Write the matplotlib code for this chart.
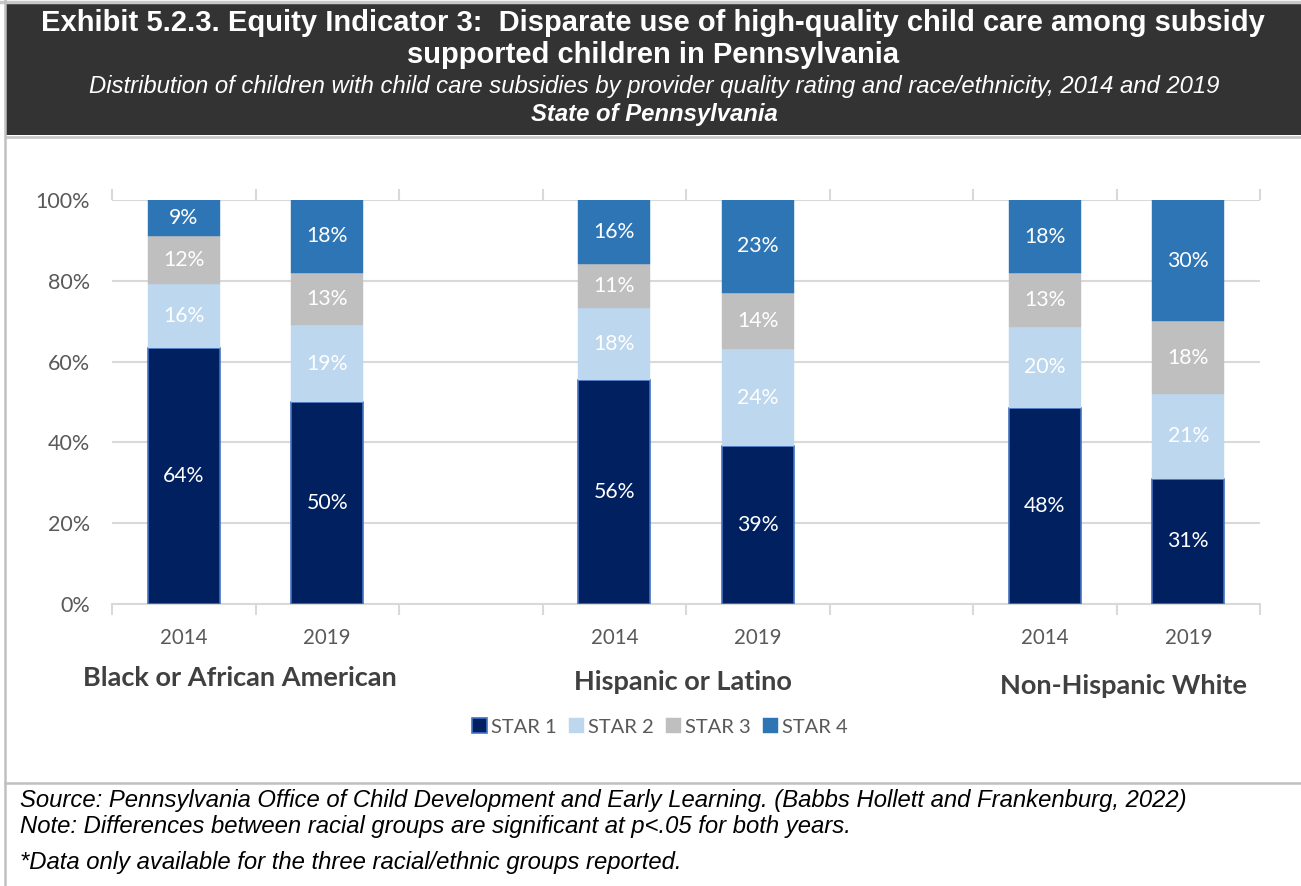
import matplotlib
matplotlib.use('Agg')
import matplotlib.pyplot as plt
import numpy as np
from matplotlib.patches import Rectangle
from matplotlib.lines import Line2D

# share of subsidy children by provider quality rating (percent)
groups = ['Black or African American', 'Hispanic or Latino', 'Non-Hispanic White']
years = ['2014', '2019', '2014', '2019', '2014', '2019']
levels = ['STAR 1', 'STAR 2', 'STAR 3', 'STAR 4']
star1 = [64, 50, 56, 39, 48, 31]
star2 = [16, 19, 18, 24, 20, 21]
star3 = [12, 13, 11, 14, 13, 18]
star4 = [9, 18, 16, 23, 18, 30]

colors = ['#002060', '#BDD7EE', '#BFBFBF', '#2E75B6']
W, H = 1301, 886
fig = plt.figure(figsize=(W / 100, H / 100), dpi=100)


def fx(px):
    return px / W


def fy(py):
    return 1 - py / H


# frame and header band
fig.add_artist(Rectangle((fx(6), fy(135)), fx(W - 6), fy(4) - fy(135), transform=fig.transFigure,
                         facecolor='#333333', edgecolor='none', zorder=0))
fig.add_artist(Line2D([fx(0), fx(W)], [fy(1.5), fy(1.5)], transform=fig.transFigure, color='#C8C8C8', lw=2.5))
fig.add_artist(Line2D([fx(6), fx(W)], [fy(137), fy(137)], transform=fig.transFigure, color='#C8C8C8', lw=2))
fig.add_artist(Line2D([fx(5), fx(5)], [fy(0), fy(H)], transform=fig.transFigure, color='#C0C0C0', lw=1.8))
fig.add_artist(Line2D([fx(5), fx(W)], [fy(783), fy(783)], transform=fig.transFigure, color='#C0C0C0', lw=1.8))

hfont = 'Liberation Sans'
fig.text(fx(653), fy(23), 'Exhibit 5.2.3. Equity Indicator 3:  Disparate use of high-quality child care among subsidy',
         ha='center', va='center', color='white', fontsize=21, fontweight='bold', family=hfont)
fig.text(fx(653), fy(55), 'supported children in Pennsylvania',
         ha='center', va='center', color='white', fontsize=21, fontweight='bold', family=hfont)
fig.text(fx(654), fy(87), 'Distribution of children with child care subsidies by provider quality rating and race/ethnicity, 2014 and 2019',
         ha='center', va='center', color='white', fontsize=17.2, style='italic', family=hfont)
fig.text(fx(654), fy(115), 'State of Pennsylvania',
         ha='center', va='center', color='white', fontsize=17.2, style='italic', fontweight='bold', family=hfont)

# chart
ax = fig.add_axes([fx(112), fy(604), fx(1260) - fx(112), fy(200) - fy(604)])
pos = np.array([0, 1, 3, 4, 6, 7])
data = np.array([star1, star2, star3, star4], dtype=float)
shares = data / data.sum(axis=0) * 100

bottom = np.zeros(len(pos))
for i, lvl in enumerate(levels):
    edge = '#4472C4' if i == 0 else colors[i]
    ax.bar(pos, shares[i], 0.5, bottom=bottom, color=colors[i], edgecolor=edge,
           linewidth=1.2 if i == 0 else 0.3, label=lvl, zorder=3)
    for x, b, h, v in zip(pos, bottom, shares[i], data[i]):
        ax.text(x, b + h / 2, f'{v:.0f}%', ha='center', va='center', color='white',
                fontsize=15.3, family='Lato', zorder=4)
    bottom += shares[i]

ax.set_xlim(-0.5, 7.5)
ax.set_ylim(0, 100)
ax.set_yticks(np.arange(0, 101, 20))
ax.set_yticklabels([f'{t}%' for t in range(0, 101, 20)])
ax.yaxis.grid(True, color='#D9D9D9', lw=1.5, zorder=0)
ax.tick_params(axis='y', length=0, pad=16, labelsize=15.5, labelcolor='#595959')
for t in ax.get_yticklabels():
    t.set_family('Lato')
ax.set_xticks(pos)
ax.set_xticklabels(years)
ax.tick_params(axis='x', which='major', length=0, pad=17, labelsize=14.8, labelcolor='#595959')
for t in ax.get_xticklabels():
    t.set_family('Lato')
ax.set_xticks(np.arange(-0.5, 8, 1), minor=True)
ax.tick_params(axis='x', which='minor', length=8, width=1.5, color='#D9D9D9',
               bottom=True, top=True, direction='out')
for s in ['left', 'right', 'top']:
    ax.spines[s].set_visible(False)
ax.spines['bottom'].set_color('#D9D9D9')
ax.spines['bottom'].set_linewidth(1.5)

# group names under the year labels
for name, xc, yc in zip(groups, [240, 683, 1123], [678, 682, 686]):
    fig.text(fx(xc), fy(yc), name, ha='center', va='center', fontsize=19.5,
             fontweight='bold', color='#404040', family='Lato')

ax.legend(loc='center', bbox_to_anchor=(fx(660), fy(727)), bbox_transform=fig.transFigure,
          ncol=4, frameon=False, handlelength=0.75, handleheight=0.75, handletextpad=0.2,
          columnspacing=0.6, prop={'family': 'Lato', 'size': 14.5}, labelcolor='#595959')

notes = [('Source: Pennsylvania Office of Child Development and Early Learning. (Babbs Hollett and Frankenburg, 2022)', 800),
         ('Note: Differences between racial groups are significant at p<.05 for both years.', 826),
         ('*Data only available for the three racial/ethnic groups reported.', 863)]
for txt, yy in notes:
    fig.text(fx(20), fy(yy), txt, ha='left', va='center', fontsize=17.2, style='italic',
             color='black', family=hfont)

fig.savefig('out.png', dpi=100)
